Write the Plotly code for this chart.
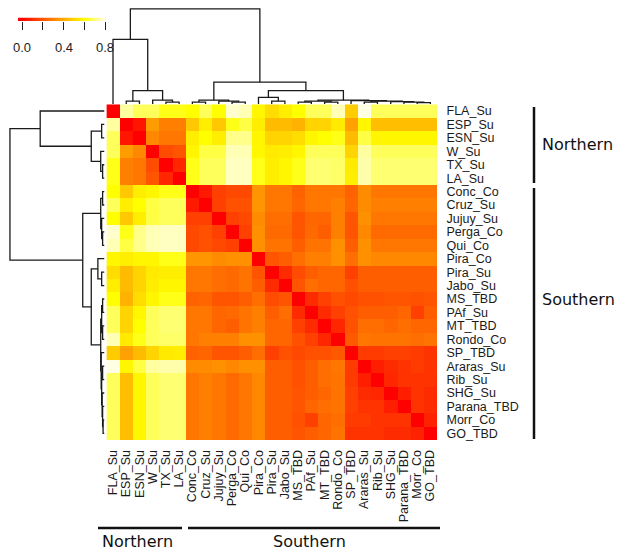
import numpy as np
import plotly.graph_objects as go

labels = ["FLA_Su", "ESP_Su", "ESN_Su", "W_Su", "TX_Su", "LA_Su",
          "Conc_Co", "Cruz_Su", "Jujuy_Su", "Perga_Co", "Qui_Co",
          "Pira_Co", "Pira_Su", "Jabo_Su", "MS_TBD", "PAf_Su", "MT_TBD",
          "Rondo_Co", "SP_TBD", "Araras_Su", "Rib_Su", "SHG_Su",
          "Parana_TBD", "Morr_Co", "GO_TBD"]

# upper triangle of the symmetric distance matrix: row i lists columns i+1..24
upper = [
    [0.74, 0.68, 0.68, 0.62, 0.62, 0.60, 0.68, 0.60, 0.78, 0.76, 0.58, 0.52, 0.56, 0.60, 0.68, 0.68, 0.76, 0.48, 0.80, 0.68, 0.68, 0.68, 0.68, 0.68],
    [0.05, 0.37, 0.30, 0.30, 0.47, 0.56, 0.47, 0.62, 0.66, 0.56, 0.44, 0.44, 0.42, 0.50, 0.50, 0.55, 0.38, 0.58, 0.45, 0.45, 0.45, 0.45, 0.45],
    [0.32, 0.28, 0.28, 0.56, 0.60, 0.56, 0.72, 0.72, 0.58, 0.50, 0.50, 0.52, 0.58, 0.60, 0.62, 0.44, 0.66, 0.58, 0.58, 0.58, 0.58, 0.58],
    [0.18, 0.20, 0.58, 0.66, 0.66, 0.76, 0.76, 0.58, 0.55, 0.56, 0.58, 0.68, 0.68, 0.68, 0.50, 0.74, 0.68, 0.68, 0.68, 0.68, 0.68],
    [0.09, 0.62, 0.68, 0.68, 0.77, 0.77, 0.62, 0.56, 0.58, 0.62, 0.70, 0.70, 0.69, 0.55, 0.75, 0.70, 0.70, 0.70, 0.70, 0.70],
    [0.62, 0.68, 0.68, 0.77, 0.77, 0.62, 0.56, 0.58, 0.62, 0.70, 0.70, 0.69, 0.56, 0.75, 0.70, 0.70, 0.70, 0.70, 0.70],
    [0.06, 0.15, 0.17, 0.17, 0.35, 0.28, 0.28, 0.23, 0.28, 0.28, 0.28, 0.23, 0.33, 0.28, 0.28, 0.28, 0.28, 0.28],
    [0.15, 0.19, 0.19, 0.35, 0.28, 0.28, 0.24, 0.28, 0.28, 0.30, 0.24, 0.33, 0.30, 0.30, 0.30, 0.30, 0.30],
    [0.15, 0.17, 0.33, 0.26, 0.26, 0.20, 0.24, 0.24, 0.30, 0.20, 0.34, 0.28, 0.28, 0.28, 0.28, 0.28],
    [0.15, 0.34, 0.25, 0.25, 0.20, 0.25, 0.22, 0.30, 0.20, 0.32, 0.25, 0.25, 0.25, 0.25, 0.25],
    [0.34, 0.27, 0.27, 0.22, 0.27, 0.27, 0.34, 0.22, 0.34, 0.28, 0.28, 0.28, 0.28, 0.28],
    [0.20, 0.22, 0.26, 0.30, 0.30, 0.34, 0.26, 0.34, 0.32, 0.32, 0.32, 0.32, 0.32],
    [0.10, 0.18, 0.22, 0.24, 0.24, 0.15, 0.22, 0.22, 0.22, 0.22, 0.22, 0.22],
    [0.20, 0.26, 0.24, 0.24, 0.19, 0.22, 0.22, 0.22, 0.22, 0.22, 0.22],
    [0.10, 0.15, 0.19, 0.17, 0.19, 0.19, 0.20, 0.20, 0.19, 0.20],
    [0.10, 0.15, 0.19, 0.22, 0.22, 0.22, 0.24, 0.15, 0.22],
    [0.09, 0.19, 0.26, 0.26, 0.24, 0.26, 0.24, 0.24],
    [0.21, 0.28, 0.27, 0.27, 0.27, 0.26, 0.27],
    [0.14, 0.14, 0.15, 0.15, 0.14, 0.12],
    [0.07, 0.10, 0.12, 0.14, 0.12],
    [0.09, 0.12, 0.12, 0.12],
    [0.07, 0.12, 0.10],
    [0.12, 0.10],
    [0.08],
    [],
]

# dendrogram: [height, left, right]; leaves are label indices (same tree for rows and columns)
tree = [1.0,
        [0.68, 0, [0.14, [0.03, 1, 2], [0.04, 3, [0.02, 4, 5]]]],
        [0.23,
         [0.04, [0.02, 6, 7], [0.03, 8, [0.02, 9, 10]]],
         [0.14,
          [0.07, 11, [0.03, 12, 13]],
          [0.04,
           [0.03, [0.02, 14, 15], [0.02, 16, 17]],
           [0.035, 18, [0.03, [0.02, 19, 20], [0.025, 21, [0.02, 22, [0.015, 23, 24]]]]]]]]]

key_ticks = [0.0, 0.2, 0.4, 0.6, 0.8]
key_labels = ["0.0", "", "0.4", "", "0.8"]

n = len(labels)
Z = np.zeros((n, n))
for i, row in enumerate(upper):
    for k, v in enumerate(row):
        j = i + 1 + k
        Z[i, j] = v
        Z[j, i] = v

# the page body has an 8px margin, so the figure is drawn 8px in from the window corner
OFF = 8
W, H = 625 - OFF, 553 - OFF
def px(x): return (x - OFF) / W
def py(y): return 1 - (y - OFF) / H

heat = [[0.0, "#FF0000"], [0.75, "#FFFF00"], [1.0, "#FFFFE4"]]

def segments(node, xs, hs):
    if isinstance(node, int):
        return float(node), 0.0
    h, l, r = node
    xl, hl = segments(l, xs, hs)
    xr, hr = segments(r, xs, hs)
    xs += [xl, xl, xr, xr, None]
    hs += [hl, h, h, hr, None]
    return (xl + xr) / 2, h

dx, dh = [], []
segments(tree, dx, dh)

fig = go.Figure()
fig.add_trace(go.Heatmap(z=Z, x=list(range(n)), y=list(range(n)), colorscale=heat,
                         zmin=0, zmax=0.8, showscale=False, xaxis="x", yaxis="y"))
# column dendrogram
fig.add_trace(go.Scatter(x=dx, y=dh, mode="lines", line=dict(color="#1a1a1a", width=1.3),
                         xaxis="x2", yaxis="y2", hoverinfo="skip"))
# row dendrogram
fig.add_trace(go.Scatter(x=dh, y=dx, mode="lines", line=dict(color="#1a1a1a", width=1.3),
                         xaxis="x3", yaxis="y3", hoverinfo="skip"))
# color key
kx = list(np.linspace(-0.04, 0.81, 120))
fig.add_trace(go.Heatmap(z=[kx], x=kx, y=[0], colorscale=heat, zmin=0, zmax=0.8,
                         showscale=False, xaxis="x4", yaxis="y4"))

hx = [px(106.4), px(437)]
hy = [py(440), py(104.3)]
common = dict(showgrid=False, zeroline=False, showline=False, automargin=False)
lab_font = dict(size=12.5, family="Arial, Liberation Sans", color="#1a1a1a")
fig.update_layout(
    width=W, height=H, margin=dict(l=0, r=0, t=0, b=0, autoexpand=False),
    paper_bgcolor="white", plot_bgcolor="white", showlegend=False,
    font=dict(family="Arial, Liberation Sans", color="#1a1a1a"),
    xaxis=dict(domain=hx, range=[-0.5, n - 0.5], tickvals=list(range(n)), ticktext=labels,
               tickangle=-90, ticks="outside", ticklen=4, tickcolor="rgba(0,0,0,0)",
               tickfont=lab_font, **common),
    yaxis=dict(domain=hy, range=[n - 0.5, -0.5], tickvals=list(range(n)), ticktext=labels,
               side="right", ticks="outside", ticklen=6, tickcolor="rgba(0,0,0,0)",
               tickfont=lab_font, **common),
    xaxis2=dict(domain=hx, range=[-0.5, n - 0.5], showticklabels=False, anchor="y2", **common),
    yaxis2=dict(domain=[py(104), py(8)], range=[0, 1.01], showticklabels=False, anchor="x2", **common),
    xaxis3=dict(domain=[px(9), px(104.5)], range=[1.01, 0], showticklabels=False, anchor="y3", **common),
    yaxis3=dict(domain=hy, range=[n - 0.5, -0.5], showticklabels=False, anchor="x3", **common),
    xaxis4=dict(domain=[px(18), px(106)], range=[-0.0386, 0.8096], tickvals=key_ticks,
                showticklabels=False, ticks="outside", ticklen=8, tickwidth=1.3, tickcolor="#222",
                anchor="y4", **common),
    yaxis4=dict(domain=[py(21), py(17.5)], range=[-0.5, 0.5], showticklabels=False, anchor="x4", **common),
)

for v, t in zip(key_ticks, key_labels):
    if t:
        fig.add_annotation(x=v, y=py(47), xref="x4", yref="paper", text=t, showarrow=False,
                           font=dict(size=13, family="Arial, Liberation Sans", color="#222"),
                           xanchor="center", yanchor="middle")

line = dict(color="#111", width=2.5)
fig.add_shape(type="line", xref="paper", yref="paper", x0=px(534), x1=px(534), y0=py(107), y1=py(183), line=line)
fig.add_shape(type="line", xref="paper", yref="paper", x0=px(534), x1=px(534), y0=py(188), y1=py(439), line=line)
fig.add_shape(type="line", xref="paper", yref="paper", x0=px(98), x1=px(182), y0=py(528), y1=py(528), line=line)
fig.add_shape(type="line", xref="paper", yref="paper", x0=px(188), x1=px(440), y0=py(528), y1=py(528), line=line)

gfont = dict(size=16, family="DejaVu Sans", color="#111")
fig.add_annotation(x=px(540), y=py(145), xref="paper", yref="paper", text="Northern", showarrow=False,
                   xanchor="left", yanchor="middle", font=gfont)
fig.add_annotation(x=px(540), y=py(299), xref="paper", yref="paper", text="Southern", showarrow=False,
                   xanchor="left", yanchor="middle", font=gfont)
fig.add_annotation(x=px(137), y=py(541), xref="paper", yref="paper", text="Northern", showarrow=False,
                   xanchor="center", yanchor="middle", font=gfont)
fig.add_annotation(x=px(309), y=py(541), xref="paper", yref="paper", text="Southern", showarrow=False,
                   xanchor="center", yanchor="middle", font=gfont)

fig.write_html("out.html")
